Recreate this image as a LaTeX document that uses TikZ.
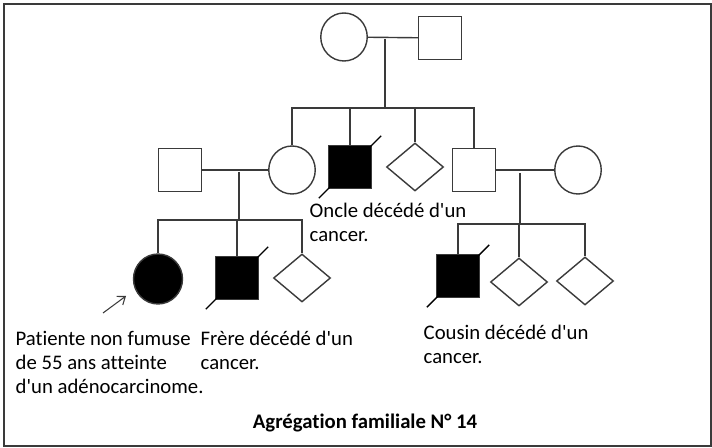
\documentclass[tikz,border=0pt]{standalone}
\usepackage{fontspec}
\setmainfont{Carlito}[Ligatures=NoCommon]
\usetikzlibrary{arrows.meta,shapes.geometric}

\definecolor{pen}{HTML}{3A3A3A}
\newcommand{\ap}{\textquotesingle}

\begin{document}
\begin{tikzpicture}[x=0.02cm, y=-0.02cm, line width=0.8pt, draw=pen,
	    every node/.style={inner sep=0pt},
	    male/.style={draw=pen, rectangle, minimum size=0.86cm},
	    female/.style={draw=pen, ellipse, minimum width=0.93cm, minimum height=0.96cm},
	    unknown/.style={draw=pen, diamond, minimum width=1.14cm, minimum height=0.96cm},
	    affected/.style={fill=black},
	    deceased/.style={draw=black},
	    note/.style={anchor=base west, align=left,
	      font=\fontsize{11.8}{13.7}\selectfont}]
	    \useasboundingbox (0,0) rectangle (712,448);
	    \draw[line width=1.1pt] (4,4) rectangle (711,446);
	    % grandparents
	    \node[female] (gm) at (344,37) {};
	    \node[male] (gf) at (440,38) {};
	    \coordinate (m1) at (385,39);
	    \coordinate (s1) at (385,108);
	    \draw (gm) -- (gf);
	    \draw (m1) -- (s1);
	    % second generation
	    \node[male] (father) at (180,170) {};
	    \node[female] (mother) at (292,170) {};
	    \node[male, affected] (uncle) at (350,167) {};
	    \node[unknown] (sib) at (415,167) {};
	    \node[male] (uncleb) at (474,170) {};
	    \node[female] (aunt) at (578,170) {};
	    \draw (mother.north) |- (s1) -| (uncleb.north);
	    \draw (uncle.north) -- (uncle.north |- s1);
	    \draw (sib.north) -- (sib.north |- s1);
	    \draw[deceased] ([shift={(-9,9)}]uncle.south west) -- ([shift={(9,-9)}]uncle.north east);
	    % family of the patient
	    \coordinate (m2) at (239,172);
	    \coordinate (s2) at (239,220);
	    \draw (father) -- (mother);
	    \draw (m2) -- (s2);
	    \node[female, affected, minimum width=0.98cm, minimum height=1.0cm] (patient) at (158,279) {};
	    \node[male, affected] (brother) at (237,278) {};
	    \node[unknown] (sibb) at (302,278) {};
	    \draw (patient.north) |- (s2) -| (sibb.north);
	    \draw (brother.north) -- (brother.north |- s2);
	    \draw[deceased] ([shift={(-9,9)}]brother.south west) -- ([shift={(9,-9)}]brother.north east);
	    \coordinate (arrowtail) at (103,313);
	    \coordinate (arrowhead) at (126,296);
	    \draw[line width=0.6pt, -{Straight Barb[length=4pt,width=6pt]}] (arrowtail) -- (arrowhead);
	    % family of the cousin
	    \coordinate (m3) at (520,173);
	    \coordinate (s3) at (520,224);
	    \draw (uncleb) -- (aunt);
	    \draw (m3) -- (s3);
	    \node[male, affected] (cousin) at (458,276) {};
	    \node[unknown] (cousinb) at (519,282) {};
	    \node[unknown] (cousinc) at (585,281) {};
	    \draw (cousin.north) |- (s3) -| (cousinc.north);
	    \draw (cousinb.north) -- (cousinb.north |- s3);
	    \draw[deceased] ([shift={(-9,9)}]cousin.south west) -- ([shift={(9,-9)}]cousin.north east);
	    % notes (base = last line)
	    \node[note] (onclenote) at (309,242) {Oncle décédé d\ap un\\cancer.};
	    \node[note] (patientnote) at (15,394) {Patiente non fumuse\\de 55 ans atteinte\\d\ap un adénocarcinome.};
	    \node[note] (frerenote) at (200,370) {Frère décédé d\ap un\\cancer.};
	    \node[note] (cousinnote) at (423,364) {Cousin décédé d\ap un\\cancer.};
	    \node[anchor=base, font=\fontsize{11.8}{13.7}\selectfont\bfseries] (title) at (365,428) {Agrégation familiale N° 14};
	  \end{tikzpicture}
\end{document}
